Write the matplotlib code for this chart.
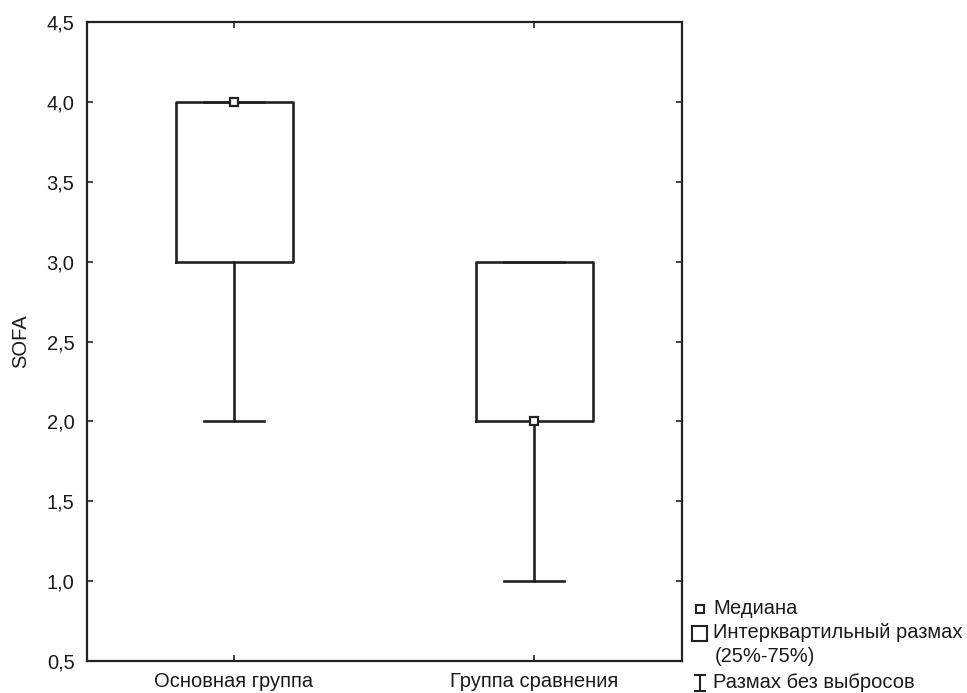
import matplotlib
matplotlib.use('Agg')
import matplotlib.pyplot as plt
from matplotlib.patches import Rectangle
from matplotlib.lines import Line2D

categories = ['Основная группа', 'Группа сравнения']
medians = [4.0, 2.0]
q1 = [3.0, 2.0]
q3 = [4.0, 3.0]
whis_lo = [2.0, 1.0]
whis_hi = [4.0, 3.0]
yticks = [0.5, 1.0, 1.5, 2.0, 2.5, 3.0, 3.5, 4.0, 4.5]
ytick_labels = ['0,5', '1,0', '1,5', '2,0', '2,5', '3,0', '3,5', '4,0', '4,5']
ylabel = 'SOFA'
legend_labels = ['Медиана', 'Интерквартильный размах', '(25%-75%)', 'Размах без выбросов']

plt.rcParams['font.family'] = ['Liberation Sans', 'DejaVu Sans']
W, H = 967, 693
fig = plt.figure(figsize=(W / 100, H / 100), dpi=100)
ax = fig.add_axes([87 / W, 1 - 661 / H, (682 - 87) / W, (661 - 22) / H])

line_c = '#222222'
txt_c = '#1a1a1a'
fs = 14.5
lw = 1.9
stats = [dict(med=m, q1=a, q3=b, whislo=lo, whishi=hi, label=c)
         for m, a, b, lo, hi, c in zip(medians, q1, q3, whis_lo, whis_hi, categories)]
pos = list(range(len(categories)))
ax.bxp(stats, positions=pos, widths=0.39, capwidths=0.2, showfliers=False,
       boxprops=dict(color=line_c, linewidth=lw),
       whiskerprops=dict(color=line_c, linewidth=lw),
       capprops=dict(color=line_c, linewidth=lw),
       medianprops=dict(linestyle='none'))
ax.plot(pos, medians, linestyle='none', marker='s', ms=6, mfc='white', mec=line_c, mew=1.6, zorder=5)

ax.set_xlim(-0.49, 1.493)
ax.set_ylim(0.5, 4.5)
ax.set_yticks(yticks)
ax.set_yticklabels(ytick_labels)
ax.set_xticks(pos)
ax.set_xticklabels(categories)
ax.tick_params(direction='in', length=4, width=1.2, colors=line_c, labelsize=fs,
               labelcolor=txt_c, top=True, right=True)
ax.tick_params(axis='y', pad=9)
ax.tick_params(axis='x', pad=8)
for s in ax.spines.values():
    s.set_linewidth(1.6)
    s.set_color(line_c)
ax.set_ylabel(ylabel, fontsize=fs, color=txt_c, labelpad=12)

def fx(px):
    return px / W

def fy(py):
    return 1 - py / H

tf = fig.transFigure
ys = [609, 633, 656, 682]
# Median marker
fig.add_artist(Line2D([fx(700)], [fy(ys[0])], transform=tf, marker='s', ms=6,
                      mfc='white', mec=line_c, mew=1.5, linestyle='none'))
# IQR square
fig.add_artist(Rectangle((fx(692), fy(ys[1] + 7.5)), 15 / W, 15 / H, transform=tf,
                         facecolor='white', edgecolor=line_c, linewidth=1.5))
# Whisker symbol
fig.add_artist(Line2D([fx(700), fx(700)], [fy(675), fy(691)], transform=tf, color=line_c, lw=1.5))
fig.add_artist(Line2D([fx(695), fx(705)], [fy(675), fy(675)], transform=tf, color=line_c, lw=1.5))
fig.add_artist(Line2D([fx(695), fx(705)], [fy(691), fy(691)], transform=tf, color=line_c, lw=1.5))

xs = [713, 713, 715, 713]
for lab, x, y in zip(legend_labels, xs, ys):
    fig.text(fx(x), fy(y), lab, fontsize=fs, color=txt_c, va='center', ha='left')

fig.savefig('out.png', dpi=100)
